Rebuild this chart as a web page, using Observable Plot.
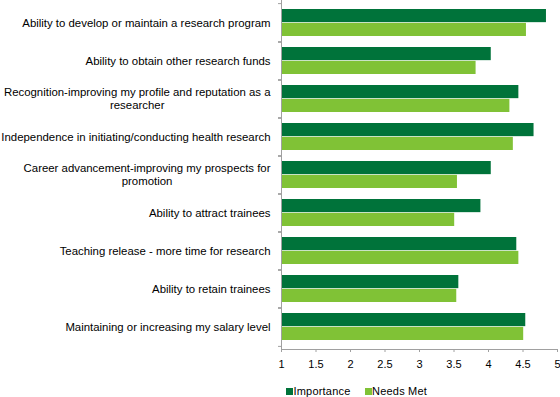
<!DOCTYPE html>
<html><head><meta charset="utf-8">
<script src="https://cdn.jsdelivr.net/npm/d3@7"></script>
<script src="https://cdn.jsdelivr.net/npm/@observablehq/plot@0.6"></script>
<style>
body{margin:0;background:#fff;font-family:Arial,"Liberation Sans",sans-serif;}
#chart{position:relative;width:560px;height:397px;overflow:hidden;}
.legend{position:absolute;left:286px;top:385px;display:flex;font-size:11px;line-height:13px;letter-spacing:0.2px;color:#000;}
.legend .item{display:flex;align-items:center;margin-right:14px;}
.legend i{display:inline-block;width:7px;height:7px;margin-right:0.5px;}
</style></head><body><div id="chart"></div><script>
const categories = [
  "Ability to develop or maintain a research program",
  "Ability to obtain other research funds",
  "Recognition-improving my profile and reputation as a researcher",
  "Independence in initiating/conducting health research",
  "Career advancement-improving my prospects for promotion",
  "Ability to attract trainees",
  "Teaching release - more time for research",
  "Ability to retain trainees",
  "Maintaining or increasing my salary level"
];
const labels = [
  "Ability to develop or maintain a research program",
  "Ability to obtain other research funds",
  "Recognition-improving my profile and reputation as a\nresearcher",
  "Independence in initiating/conducting health research",
  "Career advancement-improving my prospects for\npromotion",
  "Ability to attract trainees",
  "Teaching release - more time for research",
  "Ability to retain trainees",
  "Maintaining or increasing my salary level"
];
const importance = [4.84, 4.04, 4.44, 4.66, 4.04, 3.89, 4.41, 3.57, 4.54];
const needsMet   = [4.55, 3.82, 4.31, 4.36, 3.55, 3.51, 4.44, 3.54, 4.51];
const series = ["Importance", "Needs Met"];
const colors = ["#00733a", "#80c236"];
const xTicks = [1, 1.5, 2, 2.5, 3, 3.5, 4, 4.5, 5];

const rows = categories.map((c, i) => ({category: c, label: labels[i], importance: importance[i], needsMet: needsMet[i]}));

const W = 560, H = 372, mT = 0, mB = 23, mL = 281, mR = 3;
const step = (H - mT - mB) / categories.length;
const pInner = 0.286;
const half = step * (1 - pInner) / 2;
const gray = "#a0a0a0";
const lineGap = 12.7;
const labelSize = 11.4;

// measure label lines so that the lines of a wrapped label are centred within its block
const ctx = document.createElement("canvas").getContext("2d");
ctx.font = labelSize + 'px Arial, "Liberation Sans", sans-serif';
const textW = s => ctx.measureText(s).width;

const labelMarks = rows.flatMap(r => {
  const lines = r.label.split("\n");
  const w = d3.max(lines, textW);
  return lines.map((line, k) =>
    Plot.text([r], {y: "category", text: d => d.label.split("\n")[k], frameAnchor: "left",
      dx: -11 - (w - textW(line)) / 2, dy: (k - (lines.length - 1) / 2) * lineGap,
      textAnchor: "end", lineAnchor: "middle", fontSize: labelSize, fill: "#000"})
  );
});

const chart = Plot.plot({
  width: W, height: H,
  marginLeft: mL, marginRight: mR, marginTop: mT, marginBottom: mB,
  style: {fontFamily: 'Arial, "Liberation Sans", sans-serif', fontSize: "11px", background: "#fff", color: "#000"},
  x: {domain: [1, 5], ticks: xTicks},
  y: {domain: categories, paddingInner: pInner, paddingOuter: pInner / 2, axis: null},
  marks: [
    Plot.barX(rows, {y: "category", x1: 1, x2: "importance", fill: colors[0], insetBottom: half}),
    Plot.barX(rows, {y: "category", x1: 1, x2: "needsMet", fill: colors[1], insetTop: half}),
    Plot.ruleX([1], {stroke: gray}),
    Plot.frame({anchor: "bottom", stroke: gray}),
    Plot.axisY({tickSize: 3, tickFormat: () => "", stroke: gray, dy: -step / 2, label: null}),
    Plot.axisY({tickSize: 3, tickFormat: () => "", stroke: gray, dy: step / 2, label: null}),
    Plot.axisX({ticks: xTicks, tickSize: 3, tickPadding: 8, stroke: gray, fill: "#000", fontSize: 11, tickFormat: d => String(d), label: null}),
    ...labelMarks
  ]
});

const host = document.getElementById("chart");
host.appendChild(chart);

const legend = d3.select(host).append("div").attr("class", "legend");
series.forEach((s, i) => {
  const item = legend.append("span").attr("class", "item");
  item.append("i").style("background", colors[i]);
  item.append("span").text(s);
});
</script></body></html>
